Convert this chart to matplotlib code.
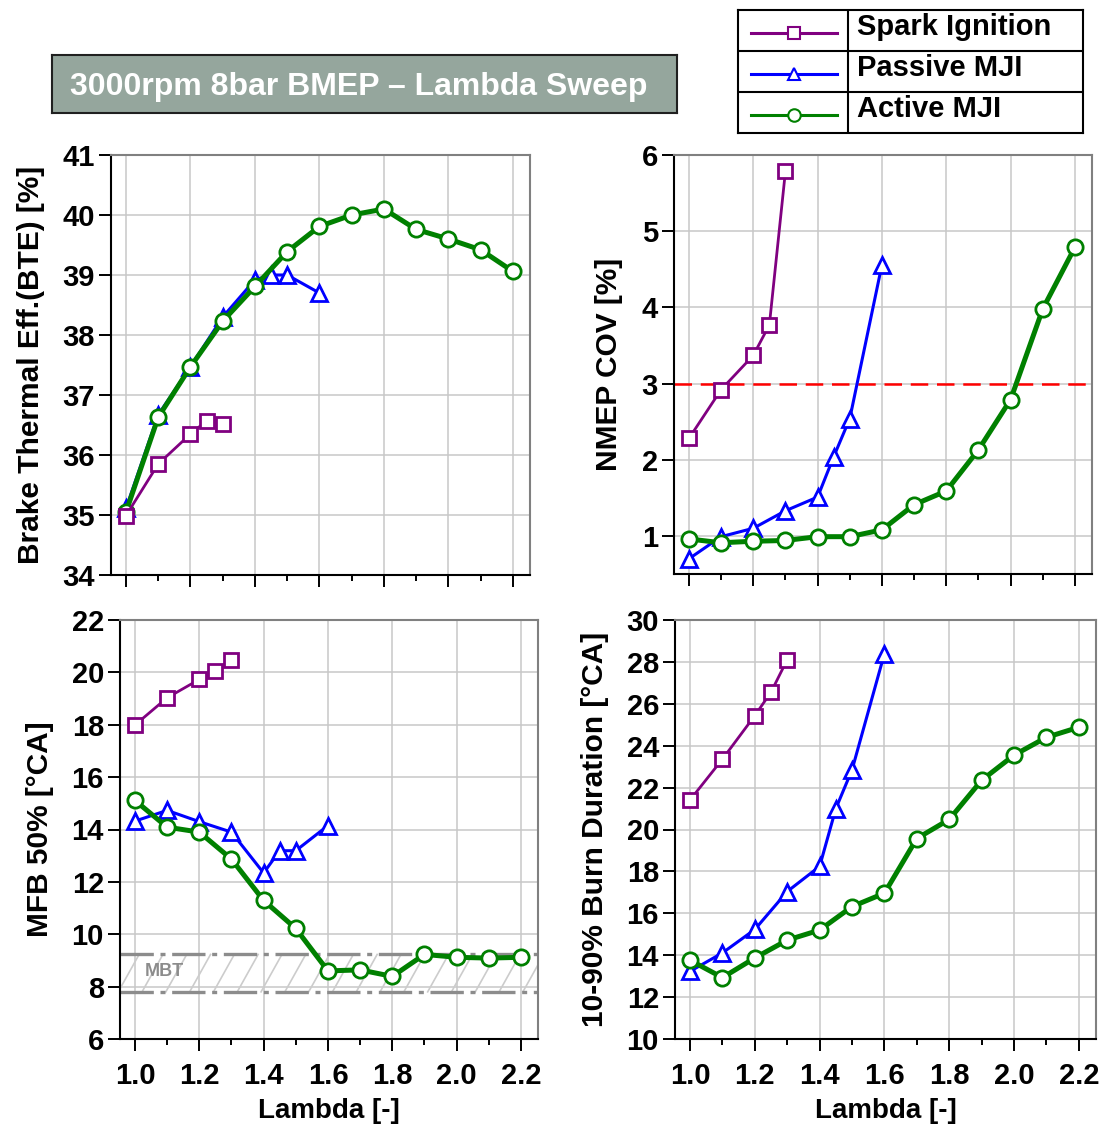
import numpy as np
import matplotlib
matplotlib.use("Agg")
import matplotlib.pyplot as plt

plt.rcParams['font.family'] = ['Liberation Sans', 'DejaVu Sans']
plt.rcParams['font.weight'] = 'bold'

# ---------------- data ----------------
lam_si = [1.0, 1.1, 1.2, 1.25, 1.3]
lam_pmji = [1.0, 1.1, 1.2, 1.3, 1.4, 1.45, 1.5, 1.6]
lam_amji = [1.0, 1.1, 1.2, 1.3, 1.4, 1.5, 1.6, 1.7, 1.8, 1.9, 2.0, 2.1, 2.2]

# brake thermal efficiency [%]
bte_si = [34.99, 35.85, 36.35, 36.57, 36.52]
bte_pmji = [35.11, 36.67, 37.47, 38.30, 38.92, 39.00, 39.00, 38.70]
bte_amji = [35.05, 36.63, 37.47, 38.23, 38.81, 39.39, 39.81, 40.00, 40.10, 39.76, 39.60, 39.42, 39.06]

# NMEP COV [%]
cov_si = [2.28, 2.92, 3.37, 3.77, 5.79]
cov_pmji = [0.70, 0.99, 1.10, 1.33, 1.51, 2.04, 2.54, 4.56]
cov_amji = [0.96, 0.91, 0.93, 0.94, 0.99, 0.99, 1.08, 1.41, 1.59, 2.13, 2.79, 3.98, 4.79]
cov_limit = 3.0

# MFB 50% [degCA]
mfb_si = [17.99, 19.03, 19.73, 20.05, 20.49]
mfb_pmji = [14.32, 14.73, 14.30, 13.90, 12.34, 13.19, 13.19, 14.15]
mfb_amji = [15.11, 14.09, 13.90, 12.87, 11.29, 10.22, 8.60, 8.64, 8.39, 9.23, 9.12, 9.09, 9.12]
mbt_low, mbt_high = 7.8, 9.23

# 10-90% burn duration [degCA]
burn_si = [21.41, 23.36, 25.44, 26.56, 28.11]
burn_pmji = [13.23, 14.11, 15.23, 17.04, 18.24, 21.00, 22.85, 28.40]
burn_amji = [13.76, 12.93, 13.87, 14.72, 15.20, 16.32, 16.96, 19.57, 20.48, 22.35, 23.55, 24.40, 24.88]

names = ["Spark Ignition", "Passive MJI", "Active MJI"]
colors = ["#800080", "#0000ff", "#008000"]
markers = ["s", "^", "o"]
lws = [2.0, 2.2, 3.6]
sizes = [10, 11, 11]
zords = [5, 3, 4]

W, H = 1099, 1125
fig = plt.figure(figsize=(W / 100, H / 100), dpi=100)


def box(x0, y0, x1, y1):
    # pixel box (top-left origin) -> figure fraction
    return [x0 / W, 1 - y1 / H, (x1 - x0) / W, (y1 - y0) / H]


def style(ax, ylim, yticks, ylabel, xlabels, labx):
    ax.set_xlim(0.9535, 2.253)
    ax.set_ylim(*ylim)
    ax.set_yticks(yticks)
    ax.set_xticks(np.round(np.arange(1.0, 2.21, 0.2), 1))
    ax.set_xticks(np.round(np.arange(1.1, 2.2, 0.2), 1), minor=True)
    if xlabels:
        ax.set_xticklabels(["%.1f" % v for v in np.arange(1.0, 2.21, 0.2)])
        ax.set_xlabel("Lambda [-]", fontsize=20, fontweight='bold')
        ax.xaxis.set_label_coords(0.5, -0.142)
    else:
        ax.set_xticklabels([])
    ax.set_yticklabels([str(v) for v in yticks])
    ax.grid(True, which='major', color='#c8c8c8', lw=1.1)
    ax.set_axisbelow(True)
    ax.tick_params(axis='both', which='major', direction='out', length=8.6, width=1.4,
                   labelsize=21, pad=3)
    ax.tick_params(axis='x', which='major', pad=8)
    ax.tick_params(axis='x', which='minor', direction='out', length=4, width=1.4)
    for s in ['left', 'bottom']:
        ax.spines[s].set_color('black')
        ax.spines[s].set_linewidth(1.5)
    for s in ['top', 'right']:
        ax.spines[s].set_color('#808080')
        ax.spines[s].set_linewidth(1.5)
    ax.set_ylabel(ylabel, fontsize=21.5, fontweight='bold')
    ax.yaxis.set_label_coords(labx, 0.5)


def series(ax, ys):
    xs = [lam_si, lam_pmji, lam_amji]
    for i in range(3):
        ax.plot(xs[i], ys[i], color=colors[i], marker=markers[i], lw=lws[i], ms=sizes[i],
                mfc='white', mec=colors[i], mew=2, zorder=zords[i])


ax1 = fig.add_axes(box(111, 155, 530, 575))
series(ax1, [bte_si, bte_pmji, bte_amji])
style(ax1, (34, 41), list(range(34, 42)), "Brake Thermal Eff.(BTE) [%]", False, -0.158)

ax2 = fig.add_axes(box(674, 155, 1092, 574))
ax2.axhline(cov_limit, color='#ff0000', lw=1.8, dashes=(7, 3.5), zorder=2)
series(ax2, [cov_si, cov_pmji, cov_amji])
style(ax2, (0.5, 6), list(range(1, 7)), "NMEP COV [%]", False, -0.122)

ax3 = fig.add_axes(box(120, 620, 538, 1039))
# hatched MBT window
for x0 in np.arange(0.80, 2.30, 0.074):
    ax3.plot([x0, x0 + 0.065], [mbt_low, mbt_high], color='#cccccc', lw=1.2, zorder=1)
for yv in [mbt_low, mbt_high]:
    ax3.axhline(yv, color='#8c8c8c', lw=2.4, dashes=(10, 2, 1.5, 2), zorder=2)
ax3.text(1.09, (mbt_low + mbt_high) / 2 + 0.05, "MBT", color='#8c8c8c', fontsize=13,
         fontweight='bold', ha='center', va='center', zorder=2)
series(ax3, [mfb_si, mfb_pmji, mfb_amji])
style(ax3, (6, 22), list(range(6, 23, 2)), "MFB 50% [°CA]", True, -0.159)

ax4 = fig.add_axes(box(675, 620, 1096, 1039))
series(ax4, [burn_si, burn_pmji, burn_amji])
style(ax4, (10, 30), list(range(10, 31, 2)), "10-90% Burn Duration [°CA]", True, -0.157)

# title box
axt = fig.add_axes(box(52, 55, 677, 113))
axt.set_facecolor('#95a69d')
axt.set_xticks([])
axt.set_yticks([])
for s in axt.spines.values():
    s.set_linewidth(1.5)
    s.set_color('#202020')
axt.text(0.49, 0.45, "3000rpm 8bar BMEP \u2013 Lambda Sweep", color='white', fontsize=23,
         fontweight='bold', ha='center', va='center', transform=axt.transAxes)

# legend table
axl = fig.add_axes(box(738, 10, 1083, 133))
axl.set_xlim(0, 1)
axl.set_ylim(3, 0)
axl.set_xticks([])
axl.set_yticks([])
for s in axl.spines.values():
    s.set_linewidth(1.5)
axl.axvline(0.319, color='black', lw=1.5)
axl.axhline(1, color='black', lw=1.5)
axl.axhline(2, color='black', lw=1.5)
for i in range(3):
    axl.plot([0.038, 0.162, 0.287], [i + 0.55] * 3, color=colors[i], lw=2.2,
             marker=markers[i], markevery=[1], ms=9, mfc='white', mec=colors[i], mew=1.5)
    axl.text(0.345, i + 0.42, names[i], fontsize=21, fontweight='bold', ha='left',
             va='center')

fig.savefig("out.png", dpi=100)
